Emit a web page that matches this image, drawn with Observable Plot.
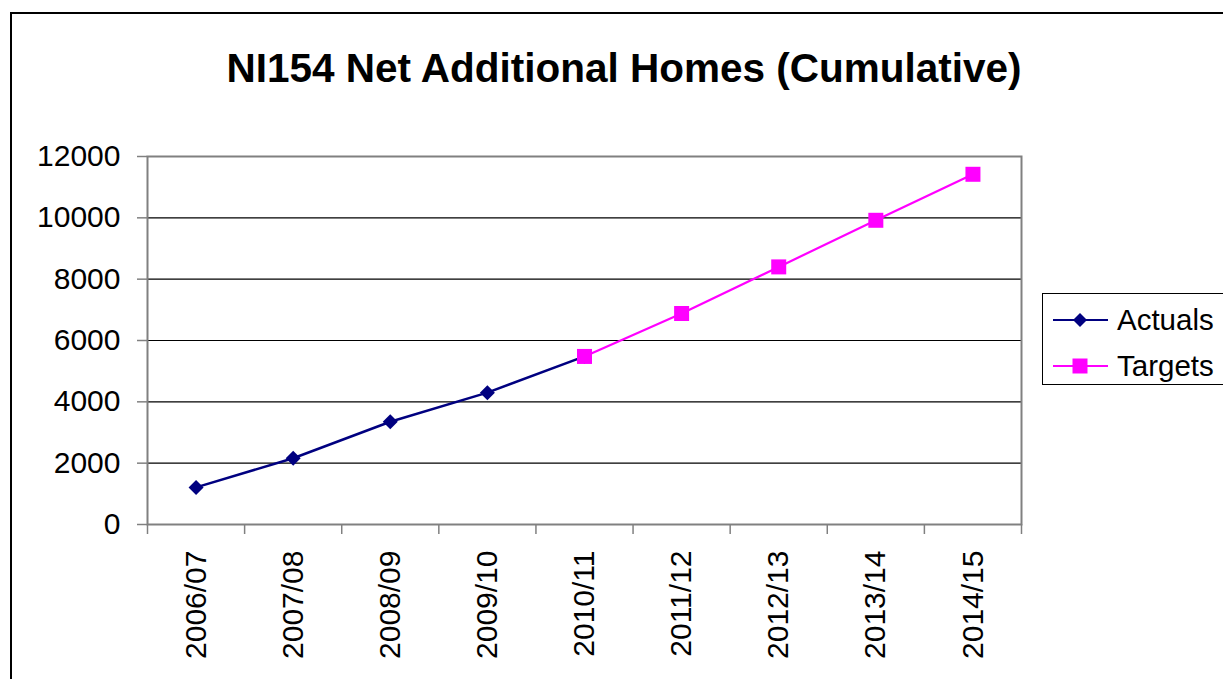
<!DOCTYPE html>
<html><head><meta charset="utf-8">
<script src="https://cdn.jsdelivr.net/npm/d3@7"></script>
<script src="https://cdn.jsdelivr.net/npm/@observablehq/plot@0.6"></script>
<style>
body{margin:0;background:#fff;overflow:hidden;font-family:"Liberation Sans",Arial,sans-serif;}
#wrap{position:relative;width:1223px;height:679px;overflow:hidden;background:#fff}
#frame{position:absolute;left:10px;top:12px;width:1300px;height:800px;border:2px solid #000;box-sizing:border-box}
#title{position:absolute;left:0;width:1248px;top:48px;text-align:center;font-weight:bold;font-size:40.5px;line-height:40px;color:#000}
#chart{position:absolute;left:0;top:0}
#legend{position:absolute;left:1042px;top:293px}
</style>
</head><body>
<div id="wrap">
  <div id="frame"></div>
  <div id="chart"></div>
  <div id="title">NI154 Net Additional Homes (Cumulative)</div>
  <div id="legend"></div>
</div>
<script>
const categories = ["2006/07","2007/08","2008/09","2009/10","2010/11","2011/12","2012/13","2013/14","2014/15"];
const actuals = [1210, 2160, 3350, 4300, 5480, null, null, null, null];
const targets = [null, null, null, null, 5480, 6880, 8400, 9920, 11420];
const yTicks = [0, 2000, 4000, 6000, 8000, 10000, 12000];
const seriesNames = ["Actuals", "Targets"];
const seriesColors = ["#000080", "#FF00FF"];

const diamond = {draw(ctx, size){ const r = Math.sqrt(size/Math.PI); ctx.moveTo(0,-r); ctx.lineTo(r,0); ctx.lineTo(0,r); ctx.lineTo(-r,0); ctx.closePath(); }};
const square = {draw(ctx, size){ const r = Math.sqrt(size/Math.PI); ctx.rect(-r,-r,2*r,2*r); }};

const rows = (vals) => categories.map((c,i)=>({i, cat:c, value: vals[i]})).filter(d=>d.value!=null);
const actRows = rows(actuals);
const tgtRows = rows(targets);
const centers = categories.map((c,i)=>i+0.5);
const bounds = d3.range(categories.length+1);
const grid = yTicks.filter(v => v > 0 && v < d3.max(yTicks));

const chart = Plot.plot({
  width: 1223, height: 679,
  marginLeft: 147, marginRight: 202, marginTop: 156, marginBottom: 155,
  style: {fontFamily: '"Liberation Sans", Arial, sans-serif', fontSize: "30px", color: "#000", background: "transparent"},
  x: {type: "linear", domain: [0, categories.length], ticks: centers, tickFormat: v => categories[Math.floor(v)], tickRotate: -90, tickSize: 0, tickPadding: 26, label: null},
  y: {domain: [0, d3.max(yTicks)], ticks: yTicks, tickFormat: d3.format("d"), tickSize: 0, tickPadding: 27, label: null},
  marks: [
    Plot.ruleY(grid, {stroke: "#000", strokeWidth: 1.2}),
    Plot.frame({stroke: "#808080", strokeWidth: 2}),
    Plot.ruleY(yTicks, {x1: 0, x2: 0, insetLeft: -10, stroke: "#808080", strokeWidth: 1.5}),
    Plot.ruleX(bounds, {y1: 0, y2: 0, insetBottom: -10, stroke: "#808080", strokeWidth: 1.5}),
    Plot.line(actRows, {x: d => d.i + 0.5, y: "value", stroke: seriesColors[0], strokeWidth: 2.5}),
    Plot.dot(actRows, {x: d => d.i + 0.5, y: "value", symbol: diamond, r: 7.5, fill: seriesColors[0], stroke: "none"}),
    Plot.line(tgtRows, {x: d => d.i + 0.5, y: "value", stroke: seriesColors[1], strokeWidth: 2.2}),
    Plot.dot(tgtRows, {x: d => d.i + 0.5, y: "value", symbol: square, r: 7.5, fill: seriesColors[1], stroke: "none"})
  ]
});
document.getElementById("chart").appendChild(chart);

// legend
const lg = d3.select("#legend").append("svg").attr("width", 181).attr("height", 96)
  .style("font-family", '"Liberation Sans", Arial, sans-serif');
lg.append("rect").attr("x", 0.5).attr("y", 0.5).attr("width", 190).attr("height", 91).attr("fill", "#fff").attr("stroke", "#000");
const symbols = [d3.symbol(diamond, Math.PI*7*7), d3.symbol(square, Math.PI*7.5*7.5)];
seriesNames.forEach((name, k) => {
  const cy = 27 + k*46;
  const g = lg.append("g").attr("transform", `translate(0,${cy})`);
  g.append("line").attr("x1", 11).attr("x2", 66).attr("y1", 0).attr("y2", 0).attr("stroke", seriesColors[k]).attr("stroke-width", 2.2);
  g.append("path").attr("d", symbols[k]()).attr("transform", "translate(38,0)").attr("fill", seriesColors[k]);
  g.append("text").attr("x", 75).attr("y", 0).attr("dy", "0.35em").attr("font-size", 29.5).attr("fill", "#000").text(name);
});
</script>
</body></html>
